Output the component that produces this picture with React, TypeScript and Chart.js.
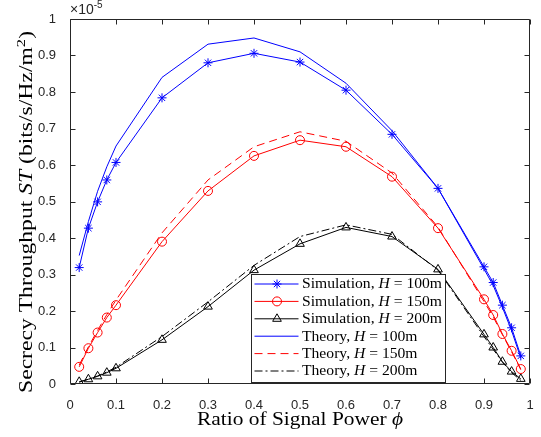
import React, { useEffect, useRef } from 'react';
import { Chart, registerables } from 'chart.js';
Chart.register(...registerables);

const phi = [0.02, 0.04, 0.06, 0.08, 0.1, 0.2, 0.3, 0.4, 0.5, 0.6, 0.7, 0.8, 0.9, 0.92, 0.94, 0.96, 0.98];
const simH100 = [0.319, 0.427, 0.499, 0.559, 0.607, 0.784, 0.880, 0.906, 0.882, 0.805, 0.684, 0.536, 0.321, 0.278, 0.216, 0.154, 0.077];
const simH150 = [0.047, 0.098, 0.141, 0.182, 0.216, 0.390, 0.529, 0.625, 0.668, 0.650, 0.568, 0.427, 0.232, 0.189, 0.137, 0.091, 0.041];
const simH200 = [0.006, 0.013, 0.021, 0.031, 0.043, 0.121, 0.212, 0.312, 0.384, 0.429, 0.404, 0.314, 0.136, 0.100, 0.061, 0.034, 0.014];
const theoH100 = [0.352, 0.445, 0.528, 0.595, 0.652, 0.840, 0.931, 0.948, 0.910, 0.824, 0.694, 0.536, 0.315, 0.270, 0.210, 0.146, 0.071];
const theoH150 = [0.052, 0.102, 0.147, 0.190, 0.230, 0.414, 0.559, 0.650, 0.691, 0.665, 0.578, 0.430, 0.226, 0.184, 0.135, 0.088, 0.039];
const theoH200 = [0.005, 0.013, 0.022, 0.033, 0.046, 0.130, 0.225, 0.325, 0.404, 0.436, 0.410, 0.312, 0.130, 0.095, 0.060, 0.031, 0.010];
const xTicks = [0, 0.1, 0.2, 0.3, 0.4, 0.5, 0.6, 0.7, 0.8, 0.9, 1];
const yTicks = [0, 0.1, 0.2, 0.3, 0.4, 0.5, 0.6, 0.7, 0.8, 0.9, 1];
const legendLabels = ['Simulation, ', 'Simulation, ', 'Simulation, ', 'Theory, ', 'Theory, ', 'Theory, '];
const legendHeights = ['100m', '150m', '200m', '100m', '150m', '200m'];

const AXIS = '#262626';
const SERIF = '"Liberation Serif", "Times New Roman", serif';
const SANS = '"Liberation Sans", Arial, sans-serif';

type Piece = { t: string; it?: boolean; sup?: boolean };

function fontFor(p: Piece, size: number) {
  const s = p.sup ? size * 0.7 : size;
  return `${p.it ? 'italic ' : ''}${s}px ${SERIF}`;
}
function measure(ctx: CanvasRenderingContext2D, pieces: Piece[], size: number) {
  let w = 0;
  for (const p of pieces) {
    ctx.font = fontFor(p, size);
    w += ctx.measureText(p.t).width;
  }
  return w;
}
function drawPieces(ctx: CanvasRenderingContext2D, pieces: Piece[], size: number, x: number, y: number, sx: number) {
  ctx.save();
  ctx.translate(x, y);
  ctx.scale(sx, 1);
  let cx = 0;
  for (const p of pieces) {
    ctx.font = fontFor(p, size);
    ctx.fillText(p.t, cx, p.sup ? -size * 0.4 : 0);
    cx += ctx.measureText(p.t).width;
  }
  ctx.restore();
}

function drawMarker(ctx: CanvasRenderingContext2D, style: string, r: number, x: number, y: number) {
  ctx.beginPath();
  if (style === 'star') {
    ctx.moveTo(x - r, y); ctx.lineTo(x + r, y);
    ctx.moveTo(x, y - r); ctx.lineTo(x, y + r);
    const d = r * Math.SQRT1_2;
    ctx.moveTo(x - d, y - d); ctx.lineTo(x + d, y + d);
    ctx.moveTo(x - d, y + d); ctx.lineTo(x + d, y - d);
  } else if (style === 'circle') {
    ctx.arc(x, y, r, 0, Math.PI * 2);
  } else if (style === 'triangle') {
    const s = r * 1.5;
    const h = Math.sqrt(3) / 2 * s;
    // same geometry as Chart.js triangle
    ctx.moveTo(x + Math.sin(0) * r, y - Math.cos(0) * r);
    const a1 = (2 * Math.PI) / 3;
    ctx.lineTo(x + Math.sin(a1) * r, y - Math.cos(a1) * r);
    const a2 = (4 * Math.PI) / 3;
    ctx.lineTo(x + Math.sin(a2) * r, y - Math.cos(a2) * r);
    ctx.closePath();
    void h;
  }
  ctx.stroke();
}

const matlabPlugin = {
  id: 'matlabDecor',
  afterDatasetsDraw(chart: any) {
    const ctx: CanvasRenderingContext2D = chart.ctx;
    const ca = chart.chartArea;
    const xs = chart.scales.x;
    const ys = chart.scales.y;
    const L = Math.round(ca.left) + 0.5;
    const R = Math.round(ca.right) - 0.5;
    const T = Math.round(ca.top) + 0.5;
    const B = Math.round(ca.bottom) - 0.5;
    ctx.save();
    ctx.strokeStyle = AXIS;
    ctx.lineWidth = 1;
    ctx.beginPath();
    ctx.rect(L, T, R - L, B - T);
    ctx.stroke();
    const tl = 5;
    ctx.beginPath();
    for (const v of xTicks) {
      const px = Math.round(xs.getPixelForValue(v)) + 0.5;
      ctx.moveTo(px, B); ctx.lineTo(px, B - tl);
      ctx.moveTo(px, T); ctx.lineTo(px, T + tl);
    }
    for (const v of yTicks) {
      const py = Math.round(ys.getPixelForValue(v)) + 0.5;
      ctx.moveTo(L, py); ctx.lineTo(L + tl, py);
      ctx.moveTo(R, py); ctx.lineTo(R - tl, py);
    }
    ctx.stroke();

    // exponent label
    ctx.fillStyle = AXIS;
    ctx.textBaseline = 'alphabetic';
    ctx.textAlign = 'left';
    ctx.font = `14px ${SANS}`;
    ctx.fillText('\u00d710', ca.left, ca.top - 5);
    const w10 = ctx.measureText('\u00d710').width;
    ctx.font = `10px ${SANS}`;
    ctx.fillText('-5', ca.left + w10, ca.top - 11);

    // x title
    ctx.fillStyle = '#000';
    const xt: Piece[] = [{ t: 'Ratio of Signal Power ' }, { t: '\u03d5', it: true }];
    const xw = measure(ctx, xt, 18);
    const xTarget = 206;
    const xcx = (ca.left + ca.right) / 2;
    drawPieces(ctx, xt, 18, xcx - xTarget / 2, ca.bottom + 41, xTarget / xw);

    // y title
    const yt: Piece[] = [
      { t: 'Secrecy Throughput ' }, { t: 'ST', it: true }, { t: ' (bits/s/Hz/m' }, { t: '2', sup: true }, { t: ')' },
    ];
    const yw = measure(ctx, yt, 18);
    const yTarget = 362;
    ctx.save();
    ctx.translate(32, 212);
    ctx.rotate(-Math.PI / 2);
    drawPieces(ctx, yt, 18, -yTarget / 2, 0, yTarget / yw);
    ctx.restore();

    // legend
    const bx = Math.round(ca.left + 181) + 0.5;
    const by = Math.round(ca.top + 255) + 0.5;
    const bw = 194;
    const bh = 108;
    ctx.fillStyle = '#fff';
    ctx.fillRect(bx, by, bw, bh);
    ctx.strokeStyle = AXIS;
    ctx.lineWidth = 1;
    ctx.strokeRect(bx, by, bw, bh);
    const refPieces: Piece[] = [{ t: 'Simulation, ' }, { t: 'H', it: true }, { t: ' = 100m' }];
    const refW = measure(ctx, refPieces, 15);
    const sx = 140 / refW;
    const ds = chart.data.datasets;
    for (let i = 0; i < 6; i++) {
      const cy = by + 9.5 + i * 17.4;
      const d = ds[i];
      ctx.save();
      ctx.strokeStyle = d.borderColor;
      ctx.lineWidth = 1;
      ctx.setLineDash(d.borderDash || []);
      ctx.beginPath();
      ctx.moveTo(bx + 3, cy);
      ctx.lineTo(bx + 47, cy);
      ctx.stroke();
      ctx.setLineDash([]);
      if (d.pointRadius > 0) {
        drawMarker(ctx, d.pointStyle, d.pointRadius, bx + 25.5, cy);
      }
      ctx.restore();
      ctx.fillStyle = '#000';
      ctx.textBaseline = 'middle';
      drawPieces(ctx, [{ t: legendLabels[i] }, { t: 'H', it: true }, { t: ' = ' + legendHeights[i] }], 15, bx + 50.5, cy + 0.5, sx);
    }
    ctx.restore();
  },
};

function pts(ys: number[]) {
  return phi.map((x, i) => ({ x, y: ys[i] }));
}

export default function App() {
  const ref = useRef<HTMLCanvasElement>(null);
  useEffect(() => {
    const canvas = ref.current!;
    const chart = new Chart(canvas, {
      type: 'line',
      data: {
        datasets: [
          { label: 'Simulation, H = 100m', data: pts(simH100), borderColor: '#0000ff', backgroundColor: 'transparent', borderWidth: 1, pointStyle: 'star', pointRadius: 4.5, pointBorderWidth: 1, pointBorderColor: '#0000ff' },
          { label: 'Simulation, H = 150m', data: pts(simH150), borderColor: '#ff0000', backgroundColor: 'transparent', borderWidth: 1, pointStyle: 'circle', pointRadius: 4.5, pointBorderWidth: 1, pointBorderColor: '#ff0000' },
          { label: 'Simulation, H = 200m', data: pts(simH200), borderColor: '#000000', backgroundColor: 'transparent', borderWidth: 1, pointStyle: 'triangle', pointRadius: 5, pointBorderWidth: 1, pointBorderColor: '#000000' },
          { label: 'Theory, H = 100m', data: pts(theoH100), borderColor: '#0000ff', backgroundColor: 'transparent', borderWidth: 1, pointRadius: 0 },
          { label: 'Theory, H = 150m', data: pts(theoH150), borderColor: '#ff0000', backgroundColor: 'transparent', borderWidth: 1, pointRadius: 0, borderDash: [8, 5] },
          { label: 'Theory, H = 200m', data: pts(theoH200), borderColor: '#000000', backgroundColor: 'transparent', borderWidth: 1, pointRadius: 0, borderDash: [8, 3, 2, 3] },
        ] as any,
      },
      options: {
        animation: false,
        responsive: false,
        events: [],
        layout: { padding: { left: 0, right: 11, top: 19, bottom: 0 } },
        plugins: { legend: { display: false }, tooltip: { enabled: false } },
        elements: { line: { tension: 0 } },
        scales: {
          x: {
            type: 'linear', min: 0, max: 1,
            grid: { display: false }, border: { display: false },
            afterBuildTicks: (s: any) => { s.ticks = xTicks.map((v) => ({ value: v })); },
            afterFit: (s: any) => { s.height = 53; },
            ticks: { color: AXIS, font: { family: SANS, size: 13 }, padding: 6, maxRotation: 0, autoSkip: false, callback: (v: any) => String(Math.round(v * 10) / 10) },
          },
          y: {
            type: 'linear', min: 0, max: 1,
            grid: { display: false }, border: { display: false },
            afterBuildTicks: (s: any) => { s.ticks = yTicks.map((v) => ({ value: v })); },
            afterFit: (s: any) => { s.width = 70; },
            ticks: { color: AXIS, font: { family: SANS, size: 13 }, padding: 6, autoSkip: false, callback: (v: any) => String(Math.round(v * 10) / 10) },
          },
        },
      },
      plugins: [matlabPlugin],
    } as any);
    return () => chart.destroy();
  }, []);
  return (
    <div style={{ position: 'fixed', left: 0, top: 0, width: 541, height: 437, background: '#fff' }}>
      <canvas ref={ref} width={541} height={437} style={{ width: 541, height: 437 }} />
    </div>
  );
}
